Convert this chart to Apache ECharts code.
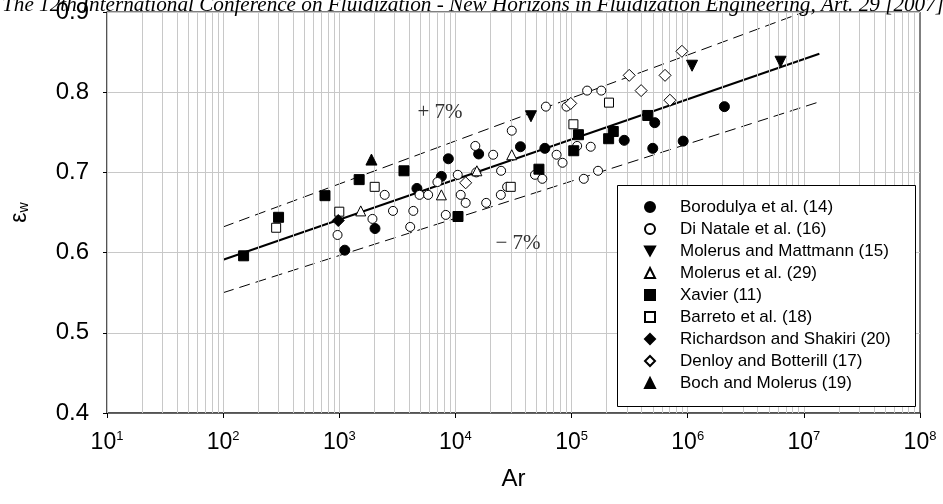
<!DOCTYPE html>
<html><head><meta charset="utf-8">
<script src="https://cdn.jsdelivr.net/npm/echarts@6/dist/echarts.min.js"></script>
<style>html,body{margin:0;padding:0;background:#fff}#c{width:943px;height:504px}</style>
</head><body><div id="c"></div>
<script>
// ---- data ----
const borodulyaAr = [1115, 2030, 4660, 7570, 8690, 15850, 36300, 58900, 284000, 500000, 520000, 914000, 2070000];
const borodulyaEps = [0.603, 0.630, 0.680, 0.695, 0.717, 0.723, 0.732, 0.730, 0.740, 0.730, 0.762, 0.739, 0.782];
const diNataleAr = [2460, 1930, 2900, 966, 4340, 4080, 4910, 5820, 7000, 8260, 10470, 11100, 12250, 14830, 15110, 18400, 21130, 24730, 24600, 27860, 30550, 48400, 56000, 60100, 74300, 83600, 90400, 111700, 146200, 127400, 169000, 136100, 180300];
const diNataleEps = [0.672, 0.642, 0.652, 0.622, 0.652, 0.632, 0.672, 0.672, 0.688, 0.647, 0.697, 0.672, 0.662, 0.733, 0.700, 0.662, 0.722, 0.702, 0.672, 0.682, 0.752, 0.697, 0.692, 0.782, 0.722, 0.712, 0.782, 0.733, 0.732, 0.692, 0.702, 0.802, 0.802];
const molMattAr = [44700, 1090000, 6300000];
const molMattEps = [0.770, 0.833, 0.838];
const molerusAr = [1530, 7570, 15300, 30550];
const molerusEps = [0.652, 0.672, 0.702, 0.722];
const xavierAr = [150, 300, 753, 1483, 3606, 10520, 52360, 104400, 114600, 208500, 228600, 453000];
const xavierEps = [0.596, 0.644, 0.671, 0.691, 0.702, 0.645, 0.704, 0.727, 0.747, 0.742, 0.751, 0.771];
const barretoAr = [286, 1000, 2018, 29930, 103700, 210000];
const barretoEps = [0.631, 0.651, 0.682, 0.682, 0.760, 0.787];
const richardsonAr = [980];
const richardsonEps = [0.640];
const denloyAr = [12250, 98400, 313500, 397000, 638000, 703000, 891000];
const denloyEps = [0.687, 0.786, 0.821, 0.802, 0.821, 0.790, 0.851];
const bochAr = [1892];
const bochEps = [0.716];
// correlation line and +/-7% band (end points)
const fitAr = [100, 13600000];
const fitEps = [0.591, 0.848];
const upperAr = [100, 10000000];
const upperEps = [0.632, 0.900];
const lowerAr = [100, 13600000];
const lowerEps = [0.550, 0.788];
// axis ticks
const xTicks = [10, 100, 1000, 10000, 100000, 1000000, 10000000, 100000000];
const yTicks = [0.4, 0.5, 0.6, 0.7, 0.8, 0.9];
const seriesNames = ['Borodulya et al. (14)', 'Di Natale et al. (16)', 'Molerus and Mattmann (15)', 'Molerus et al. (29)', 'Xavier (11)', 'Barreto et al. (18)', 'Richardson and Shakiri (20)', 'Denloy and Botterill (17)', 'Boch and Molerus (19)'];
const titleText = 'The 12th International Conference on Fluidization - New Horizons in Fluidization Engineering, Art. 29 [2007]';

const zip = (a, b) => a.map((v, i) => [v, b[i]]);
// vertical grid lines at 1..9 x 10^k
const gridX = [];
for (let k = 1; k < 8; k++) for (let m = 1; m <= 9; m++) gridX.push(m * Math.pow(10, k));

const downTri = 'path://M0,0L10,0L5,9Z';
const filled = {color: '#000', borderColor: '#000', borderWidth: 1, opacity: 1};
const open = {color: '#fff', borderColor: '#000', borderWidth: 1, opacity: 1};
function sc(name, ar, eps, symbol, size, style) {
  return {name, type: 'scatter', data: zip(ar, eps), symbol, symbolSize: size, itemStyle: style, z: 5};
}
const FONT = 'Arial, "Liberation Sans"';
const chart = echarts.init(document.getElementById('c'), null, {renderer: 'canvas'});
chart.setOption({
  animation: false,
  backgroundColor: '#fff',
  grid: {left: 103, right: 23, top: 12, bottom: 91, show: true, borderColor: '#000', borderWidth: 1, backgroundColor: 'transparent'},
  xAxis: {
    type: 'log', logBase: 10, min: 10, max: 1e8,
    name: 'Ar', nameLocation: 'middle', nameGap: 54,
    nameTextStyle: {fontFamily: FONT, fontSize: 24, color: '#000'},
    axisLine: {show: true, lineStyle: {color: '#444', width: 1.5}},
    axisTick: {show: true, length: 5, lineStyle: {color: '#000'}},
    splitLine: {show: false},
    axisLabel: {
      margin: 17, color: '#000',
      formatter: v => '{b|10}{s|' + Math.round(Math.log10(v)) + '}',
      rich: {
        b: {fontFamily: FONT, fontSize: 23, lineHeight: 24, color: '#000', verticalAlign: 'bottom'},
        s: {fontFamily: FONT, fontSize: 13, lineHeight: 24, color: '#000', verticalAlign: 'top', padding: [0, 0, 9, 0]}
      }
    }
  },
  yAxis: {
    type: 'value', min: 0.4, max: 0.9, interval: 0.1,
    name: '{e|ε}{w|w}', nameLocation: 'middle', nameGap: 76, nameRotate: 90,
    nameTextStyle: {rich: {
      e: {fontFamily: FONT, fontSize: 23, color: '#000', verticalAlign: 'bottom', lineHeight: 24},
      w: {fontFamily: FONT, fontSize: 14, color: '#000', verticalAlign: 'bottom', lineHeight: 20}
    }},
    axisLine: {show: true, lineStyle: {color: '#444', width: 1.5}},
    axisTick: {show: true, length: 4, lineStyle: {color: '#000'}},
    splitLine: {show: true, lineStyle: {color: '#c8c8c8', width: 1}},
    axisLabel: {margin: 18, color: '#000', fontFamily: FONT, fontSize: 24, formatter: v => v.toFixed(1)}
  },
  legend: {
    orient: 'vertical', left: 644, top: 196, padding: 0, itemGap: 0,
    itemWidth: 10, itemHeight: 10, data: seriesNames,
    textStyle: {fontFamily: FONT, fontSize: 17, color: '#000', lineHeight: 22, padding: [0, 0, 0, 20]},
    selectedMode: false, z: 20
  },
  graphic: [
    {type: 'rect', left: 617, top: 185, z: 15, shape: {width: 298, height: 221}, style: {fill: '#fff', stroke: '#000', lineWidth: 1}},
    {type: 'text', left: 2, top: -5, z: 30, style: {text: titleText, font: 'italic 21.2px "Liberation Serif", "Times New Roman", serif', fill: '#000'}},
    {type: 'text', x: 440, y: 112, z: 10, style: {text: '+ 7%', font: '21px "Liberation Serif", serif', fill: '#333', align: 'center', verticalAlign: 'middle'}},
    {type: 'text', x: 518, y: 243, z: 10, style: {text: '\u2212 7%', font: '21px "Liberation Serif", serif', fill: '#333', align: 'center', verticalAlign: 'middle'}}
  ],
  series: [
    {name: 'grid', type: 'line', data: [], z: 1, silent: true,
     markLine: {silent: true, symbol: ['none', 'none'], label: {show: false}, animation: false,
       lineStyle: {color: '#c8c8c8', type: 'solid', width: 1},
       data: gridX.map(v => ({xAxis: v}))}},
    {name: 'fit', type: 'line', data: zip(fitAr, fitEps), symbol: 'none', lineStyle: {color: '#000', width: 2}, z: 3, silent: true},
    {name: 'upper', type: 'line', data: zip(upperAr, upperEps), symbol: 'none', lineStyle: {color: '#000', width: 1, type: [11, 6]}, z: 3, silent: true},
    {name: 'lower', type: 'line', data: zip(lowerAr, lowerEps), symbol: 'none', lineStyle: {color: '#000', width: 1, type: [11, 6]}, z: 3, silent: true},
    sc(seriesNames[0], borodulyaAr, borodulyaEps, 'circle', 10, filled),
    sc(seriesNames[1], diNataleAr, diNataleEps, 'circle', 9, open),
    sc(seriesNames[2], molMattAr, molMattEps, downTri, 11, filled),
    sc(seriesNames[3], molerusAr, molerusEps, 'triangle', 10, open),
    sc(seriesNames[4], xavierAr, xavierEps, 'rect', 10, filled),
    sc(seriesNames[5], barretoAr, barretoEps, 'rect', 9, open),
    sc(seriesNames[6], richardsonAr, richardsonEps, 'diamond', 12, filled),
    sc(seriesNames[7], denloyAr, denloyEps, 'diamond', 12, open),
    sc(seriesNames[8], bochAr, bochEps, 'triangle', 11, filled)
  ]
});
</script></body></html>
